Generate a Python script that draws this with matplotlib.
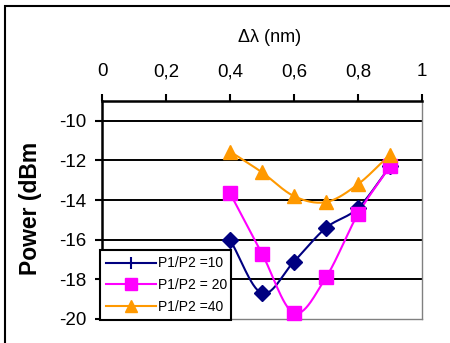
import numpy as np
import matplotlib
matplotlib.use("Agg")
import matplotlib.pyplot as plt
from matplotlib.lines import Line2D
from matplotlib.patches import Rectangle

plt.rcParams['font.family'] = ['Liberation Sans', 'DejaVu Sans']
plt.rcParams['axes.unicode_minus'] = False

delta_lambda = [0.4, 0.5, 0.6, 0.7, 0.8, 0.9]
power_10 = [-16.0, -18.7, -17.1, -15.4, -14.4, -12.3]
power_20 = [-13.65, -16.7, -19.7, -17.9, -14.7, -12.3]
power_40 = [-11.55, -12.6, -13.8, -14.1, -13.2, -11.7]
labels = ["P1/P2 =10", "P1/P2 = 20", "P1/P2 =40"]
x_ticks = [0, 0.2, 0.4, 0.6, 0.8, 1.0]
x_ticklabels = ["0", "0,2", "0,4", "0,6", "0,8", "1"]
y_ticks = [-20, -18, -16, -14, -12, -10]


def smooth(x, y, n=30):
    """Catmull-Rom curve through the points, like a smoothed spreadsheet line."""
    x = np.asarray(x, float)
    y = np.asarray(y, float)
    px = np.concatenate([[2 * x[0] - x[1]], x, [2 * x[-1] - x[-2]]])
    py = np.concatenate([[2 * y[0] - y[1]], y, [2 * y[-1] - y[-2]]])
    xs, ys = [], []
    t = np.linspace(0, 1, n)
    for i in range(1, len(px) - 2):
        p0, p1, p2, p3 = [np.array([px[j], py[j]]) for j in range(i - 1, i + 3)]
        m1 = (p2 - p0) / 6.0
        m2 = (p3 - p1) / 6.0
        b0, b1, b2, b3 = p1, p1 + m1, p2 - m2, p2
        pts = ((1 - t) ** 3)[:, None] * b0 + (3 * (1 - t) ** 2 * t)[:, None] * b1 \
            + (3 * (1 - t) * t ** 2)[:, None] * b2 + (t ** 3)[:, None] * b3
        xs.extend(pts[:, 0])
        ys.extend(pts[:, 1])
    return np.array(xs), np.array(ys)


W, H = 450, 343
fig = plt.figure(figsize=(W / 100, H / 100), dpi=100)

# outer frame
fig.patches.append(Rectangle((5 / W, -0.1), 1.2, 1 - 6 / H + 0.1, transform=fig.transFigure,
                             fill=False, edgecolor='black', linewidth=1.5))

ax = fig.add_axes([102 / W, 1 - 319 / H, 320 / W, (319 - 101) / H])
ax.set_xlim(0, 1)
ax.set_ylim(-20, -9)

for yv in y_ticks[1:]:
    ax.axhline(yv, color='black', linewidth=1.4, zorder=1)

series = [
    (power_10, '#000080', 'D', 8.5),
    (power_20, '#FF00FF', 's', 9.5),
    (power_40, '#FF9900', '^', 10),
]
for vals, col, mk, ms in series:
    sx, sy = smooth(delta_lambda, vals)
    ax.plot(sx, sy, color=col, linewidth=1.5, zorder=3, clip_on=False)
    ax.plot(delta_lambda, vals, linestyle='none', marker=mk, markersize=ms,
            color=col, zorder=4, clip_on=False)

ax.xaxis.tick_top()
ax.set_xticks(x_ticks)
ax.set_xticklabels(x_ticklabels)
ax.set_yticks(y_ticks)
ax.tick_params(axis='x', direction='out', length=5, width=1.5, pad=10, labelsize=13.5)
ax.tick_params(axis='y', direction='out', length=5, width=1.5, pad=6, labelsize=13.5)

ax.spines['top'].set_linewidth(1.8)
ax.spines['left'].set_linewidth(1.8)
ax.spines['right'].set_color('#808080')
ax.spines['bottom'].set_color('#808080')
ax.spines['right'].set_linewidth(1)
ax.spines['bottom'].set_linewidth(1)

fig.text(270 / W, 1 - 38 / H, "\u0394\u03bb (nm)", ha='center', va='center', fontsize=13)
fig.text(30 / W, 1 - 208 / H, "Power (dBm", rotation=90, ha='center', va='center',
         fontsize=16.5, fontweight='bold')

handles = [
    Line2D([], [], color='#000080', linewidth=1.5, marker='|', markersize=8, markeredgewidth=1.5),
    Line2D([], [], color='#FF00FF', linewidth=1.5, marker='s', markersize=9),
    Line2D([], [], color='#FF9900', linewidth=1.5, marker='^', markersize=8),
]
leg = ax.legend(handles, labels, loc='lower left', bbox_to_anchor=(100 / W, 1 - 320 / H, 131 / W, 71 / H),
                bbox_transform=fig.transFigure, mode='expand', fontsize=10, frameon=True,
                fancybox=False, framealpha=1, edgecolor='black', borderpad=0.45,
                labelspacing=0.55, handlelength=3.6, handletextpad=0.1, borderaxespad=0)
leg.get_frame().set_linewidth(1.5)
leg.set_zorder(5)

fig.savefig("out.png", dpi=100)
